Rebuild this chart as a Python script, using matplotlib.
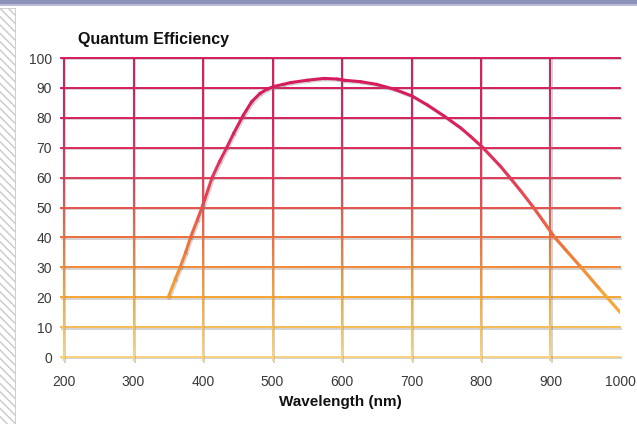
import numpy as np
import matplotlib
matplotlib.use("Agg")
import matplotlib.pyplot as plt
from matplotlib.collections import LineCollection
from matplotlib.colors import LinearSegmentedColormap
from matplotlib.patches import Rectangle
import matplotlib.patheffects as pe

plt.rcParams['font.family'] = ['Liberation Sans', 'DejaVu Sans']

# data
wavelength = [350, 360, 367, 375, 382, 392, 400, 413, 424, 434, 444, 458, 470, 482,
              492, 502, 515, 526, 550, 574, 593, 603, 627, 650, 675, 701, 723, 747,
              771, 785, 802, 828, 843, 857, 874, 890, 905, 925, 944, 972, 1000]
efficiency = [20, 26, 30, 35, 40, 46, 51, 60, 65.5, 70, 74.8, 80.9, 85.4, 88.2,
              89.6, 90.5, 91.2, 91.8, 92.6, 93.2, 93, 92.6, 92.1, 91.2, 89.6, 87.3, 84.3, 80.6,
              76.6, 73.8, 70.2, 63.8, 59.6, 55.6, 50.5, 45.3, 40.3, 35, 30, 22.4, 15]
x_ticks = [200, 300, 400, 500, 600, 700, 800, 900, 1000]
y_ticks = [0, 10, 20, 30, 40, 50, 60, 70, 80, 90, 100]

# colour goes from yellow-orange at the bottom to crimson at the top
cmap = LinearSegmentedColormap.from_list("qe", [
    (0.0, "#FAD27C"), (0.2, "#F6A531"), (0.4, "#EE6C3A"),
    (0.6, "#E3385A"), (0.8, "#D81F5E"), (1.0, "#D51B5E")])

fig = plt.figure(figsize=(6.37, 4.24), dpi=100)
fig.patch.set_facecolor("white")

# decoration: blue bar on top and hatched strip on the left
fig.patches.append(Rectangle((0, 0.985), 1, 0.015, transform=fig.transFigure,
                             facecolor="#8E92B8", edgecolor="none", zorder=0))
fig.patches.append(Rectangle((0, 0.985), 1, 0.006, transform=fig.transFigure,
                             facecolor="#B9BCD4", edgecolor="none", zorder=0))
fig.patches.append(Rectangle((-0.01, -0.01), 0.033, 0.99, transform=fig.transFigure,
                             facecolor="white", edgecolor="#C8C8C8", hatch="\\\\\\\\",
                             linewidth=0.6, zorder=0))

ax = fig.add_axes([0.1005, 0.158, 0.8728, 0.705])
ax.set_xlim(200, 1000)
ax.set_ylim(0, 100)
for s in ax.spines.values():
    s.set_visible(False)

shadow = [pe.SimpleLineShadow(offset=(1, -1), shadow_color="gray", alpha=0.35), pe.Normal()]

# horizontal grid lines
for yv in y_ticks:
    ax.plot([195, 1000], [yv, yv], color=cmap(yv / 100), lw=1.4,
            clip_on=False, zorder=2, path_effects=shadow)

# vertical grid lines, coloured by height
for xv in x_ticks[:-1]:
    ys = np.linspace(-1.5, 100, 60)
    segs = [[(xv, ys[i]), (xv, ys[i + 1])] for i in range(len(ys) - 1)]
    mids = (ys[:-1] + ys[1:]) / 2
    lc = LineCollection(segs, colors=cmap(np.clip(mids / 100, 0, 1)), linewidths=1.4,
                        zorder=2, clip_on=False, path_effects=shadow)
    ax.add_collection(lc)

# QE curve, coloured by value
wl = np.array(wavelength, dtype=float)
ef = np.array(efficiency, dtype=float)
pts = np.column_stack([wl, ef]).reshape(-1, 1, 2)
segs = np.concatenate([pts[:-1], pts[1:]], axis=1)
mids = (ef[:-1] + ef[1:]) / 2
curve = LineCollection(segs, colors=cmap(np.clip(mids / 100, 0, 1)), linewidths=2.2,
                       capstyle="round", joinstyle="round", zorder=4,
                       path_effects=[pe.SimpleLineShadow(offset=(1, -1), shadow_color="gray", alpha=0.3),
                                     pe.Normal()])
ax.add_collection(curve)

ax.set_xticks(x_ticks)
ax.set_yticks(y_ticks)
ax.tick_params(length=0, labelsize=10, labelcolor="#3a3a3a")
ax.tick_params(axis="y", pad=8.5)
ax.tick_params(axis="x", pad=13)

fig.text(0.534, 0.052, "Wavelength (nm)", fontsize=11, fontweight="bold",
         color="#111111", va="center", ha="center")
fig.text(0.123, 0.906, "Quantum Efficiency", fontsize=11.5, fontweight="bold",
         color="#111111", va="center", ha="left")

fig.savefig("out.png", dpi=100)
